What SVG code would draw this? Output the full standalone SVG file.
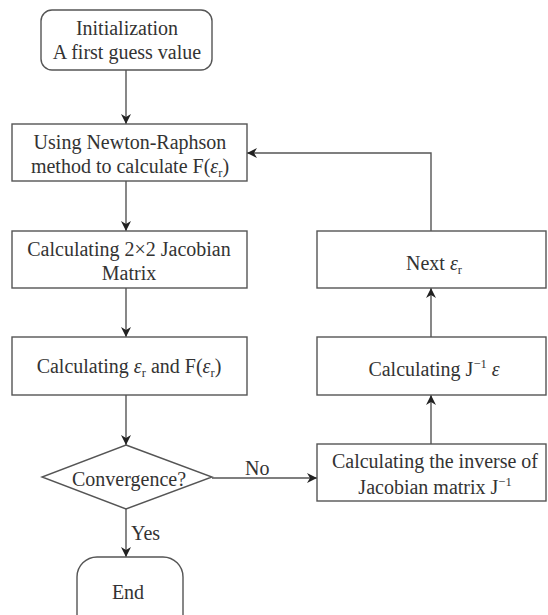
<svg xmlns="http://www.w3.org/2000/svg" width="548" height="615" viewBox="0 0 548 615">
<defs>
<style>
.box{fill:#fff;stroke:#555;stroke-width:1.4}
.ln{fill:none;stroke:#555;stroke-width:1.4}
text{font-size:20px;fill:#333;text-anchor:middle}
.lbl{text-anchor:start}
.it{font-style:italic}
.sub{font-size:12.5px}
</style>
<marker id="arr" viewBox="0 0 10 10" refX="10" refY="5" markerWidth="10" markerHeight="10" markerUnits="userSpaceOnUse" orient="auto">
<path d="M0,0 L10,5 L0,10 L3,5 z" fill="#222"/>
</marker>
</defs>
<rect width="548" height="615" fill="#fff"/>
<g font-family="'Liberation Serif', 'Times New Roman', 'DejaVu Serif', serif">
<g id="connectors">
<line class="ln" x1="126" y1="70" x2="126" y2="124" marker-end="url(#arr)"/>
<line class="ln" x1="126" y1="181" x2="126" y2="231" marker-end="url(#arr)"/>
<line class="ln" x1="126" y1="288" x2="126" y2="337" marker-end="url(#arr)"/>
<line class="ln" x1="126" y1="395" x2="126" y2="445" marker-end="url(#arr)"/>
<line class="ln" x1="126" y1="509" x2="126" y2="557" marker-end="url(#arr)"/>
<line class="ln" x1="212" y1="478" x2="317" y2="478" marker-end="url(#arr)"/>
<line class="ln" x1="431" y1="444" x2="431" y2="395" marker-end="url(#arr)"/>
<line class="ln" x1="431" y1="337" x2="431" y2="288" marker-end="url(#arr)"/>
<polyline class="ln" points="431,231 431,153 247,153" marker-end="url(#arr)"/>
<text class="lbl" x="131" y="540">Yes</text>
<text class="lbl" x="245" y="475">No</text>
</g>
<g id="init">
<rect class="box" x="41" y="10" width="171" height="60" rx="11"/>
<text x="127" y="35">Initialization</text>
<text x="127" y="59">A first guess value</text>
</g>
<g id="newton">
<rect class="box" x="12" y="124" width="235" height="57"/>
<text x="130" y="149">Using Newton-Raphson</text>
<text x="130" y="173">method to calculate F(<tspan class="it">ε</tspan><tspan class="sub" dy="4">r</tspan><tspan dy="-4">)</tspan></text>
</g>
<g id="jacobian">
<rect class="box" x="12" y="231" width="235" height="57"/>
<text x="129" y="256">Calculating 2×2 Jacobian</text>
<text x="129" y="280">Matrix</text>
</g>
<g id="calc-eps">
<rect class="box" x="12" y="337" width="235" height="58"/>
<text x="129" y="373">Calculating <tspan class="it">ε</tspan><tspan class="sub" dy="4">r</tspan><tspan dy="-4"> and F(</tspan><tspan class="it">ε</tspan><tspan class="sub" dy="4">r</tspan><tspan dy="-4">)</tspan></text>
</g>
<g id="convergence">
<polygon class="box" points="126,445 212,477 126,509 42,477"/>
<text x="129" y="486">Convergence?</text>
</g>
<g id="end">
<rect class="box" x="77" y="557" width="106" height="80" rx="20"/>
<text x="128" y="599">End</text>
</g>
<g id="inverse">
<rect class="box" x="317" y="444" width="229" height="57"/>
<text x="435" y="468">Calculating the inverse of</text>
<text x="435" y="494">Jacobian matrix J<tspan class="sub" dy="-8">−1</tspan></text>
</g>
<g id="j-eps">
<rect class="box" x="317" y="337" width="229" height="58"/>
<text x="434" y="376">Calculating J<tspan class="sub" dy="-8">−1</tspan><tspan dy="8"> </tspan><tspan class="it">ε</tspan></text>
</g>
<g id="next">
<rect class="box" x="317" y="231" width="229" height="57"/>
<text x="434" y="270">Next <tspan class="it">ε</tspan><tspan class="sub" dy="4">r</tspan></text>
</g>
</g>
</svg>
